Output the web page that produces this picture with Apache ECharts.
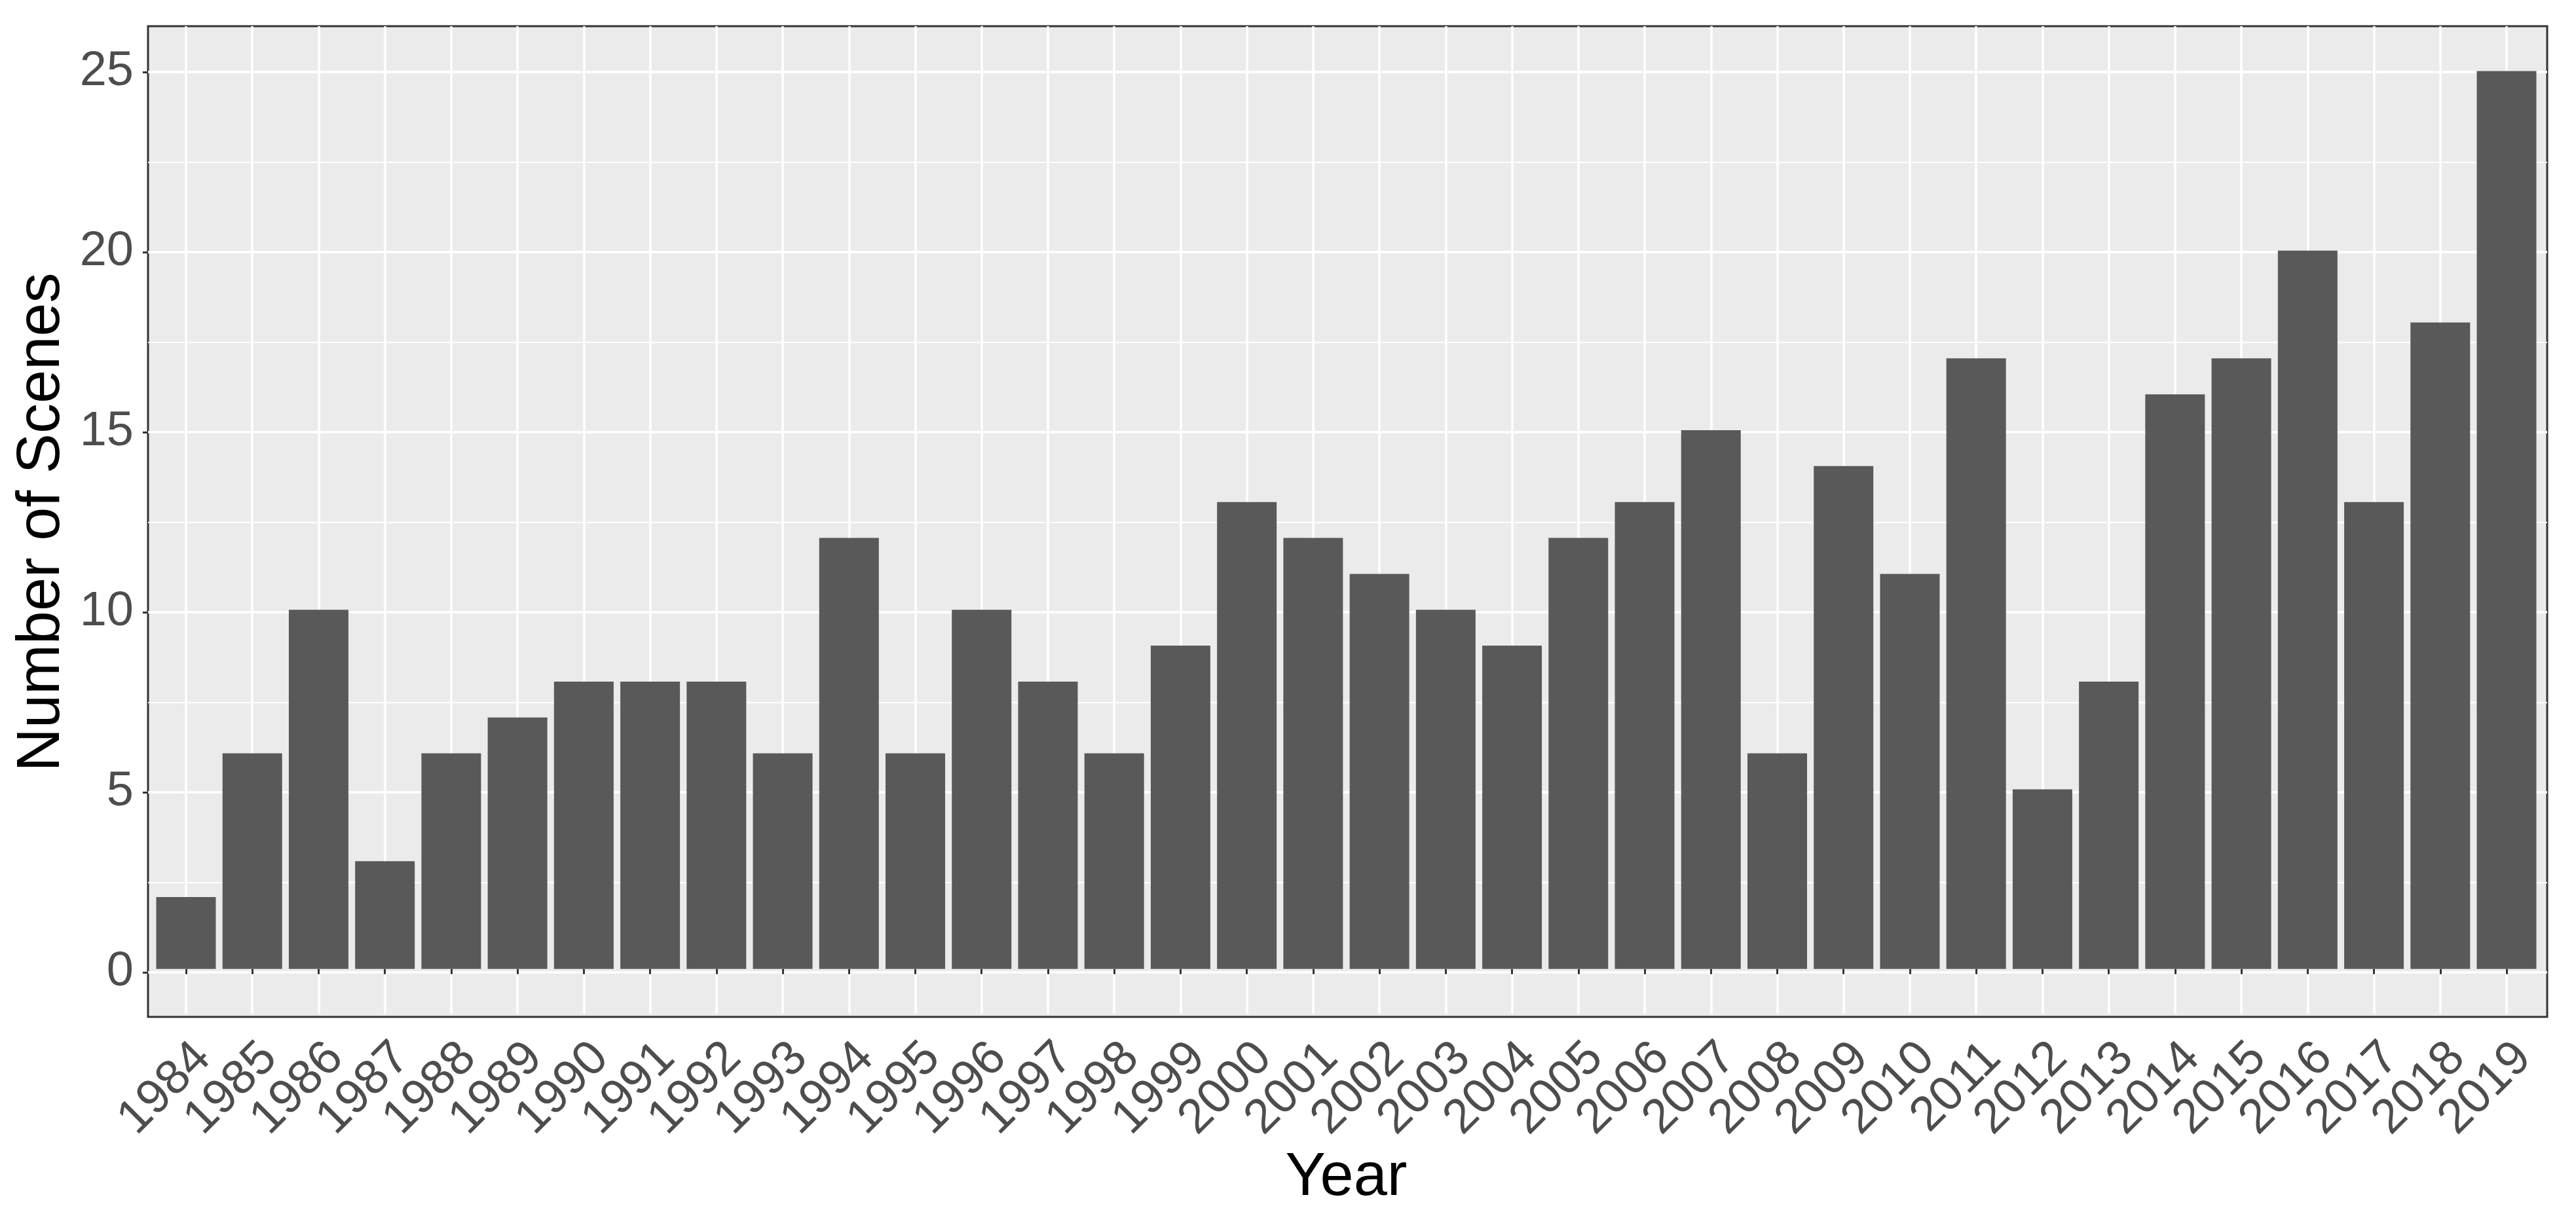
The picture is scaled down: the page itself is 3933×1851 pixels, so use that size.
<!DOCTYPE html>
<html>
<head>
<meta charset="utf-8">
<script src="https://cdn.jsdelivr.net/npm/echarts@6/dist/echarts.min.js"></script>
<style>
html,body{margin:0;padding:0;background:#fff;}
#chart{width:3933px;height:1851px;}
</style>
</head>
<body>
<div id="chart"></div>
<script>
// ---- data ----
const years = ['1984','1985','1986','1987','1988','1989','1990','1991','1992','1993','1994','1995','1996','1997','1998','1999','2000','2001','2002','2003','2004','2005','2006','2007','2008','2009','2010','2011','2012','2013','2014','2015','2016','2017','2018','2019'];
const scenes = [2,6,10,3,6,7,8,8,8,6,12,6,10,8,6,9,13,12,11,10,9,12,13,15,6,14,11,17,5,8,16,17,20,13,18,25];
const yTicks = [0,5,10,15,20,25];
const xTitle = 'Year';
const yTitle = 'Number of Scenes';

const FONT = '"Liberation Sans", Arial, sans-serif';
const chart = echarts.init(document.getElementById('chart'));

chart.setOption({
  animation: false,
  backgroundColor: '#ffffff',
  grid: [
    // panel background + border
    {left: 226, right: 44, top: 40, bottom: 298, show: true, backgroundColor: '#EBEBEB', borderColor: '#333333', borderWidth: 3, z: 0},
    // bars + vertical gridlines + x axis (first/last category at grid edges)
    {left: 284, right: 106, top: 40, bottom: 298, z: 1},
    // horizontal gridlines + y axis
    {left: 226, right: 44, top: 110, bottom: 366, z: 1}
  ],
  xAxis: [
    {gridIndex: 0, type: 'value', min: 0, max: 1, show: false},
    {gridIndex: 1, type: 'category', data: years, boundaryGap: false, z: 2,
      axisLine: {show: false},
      axisTick: {show: true, interval: 0, length: 8, lineStyle: {color: '#333333', width: 3}},
      splitLine: {show: true, interval: 0, lineStyle: {color: '#ffffff', width: 3.5}},
      axisLabel: {show: true, interval: 0, rotate: 45, align: 'right', verticalAlign: 'top', margin: 30,
        fontFamily: FONT, fontSize: 74, color: '#4D4D4D'},
      name: xTitle, nameLocation: 'middle', nameGap: 186,
      nameTextStyle: {fontFamily: FONT, fontSize: 92, color: '#000000'}
    },
    {gridIndex: 2, type: 'value', min: 0, max: 1, show: false}
  ],
  yAxis: [
    {gridIndex: 0, type: 'value', min: 0, max: 1, show: false},
    {gridIndex: 1, type: 'value', min: -1.25, max: 26.25, show: false},
    {gridIndex: 2, type: 'value', min: yTicks[0], max: yTicks[yTicks.length - 1], interval: 5, z: 2,
      axisLine: {show: false},
      axisTick: {show: true, length: 8, lineStyle: {color: '#333333', width: 3}},
      splitLine: {show: true, lineStyle: {color: '#ffffff', width: 3.5}},
      minorTick: {show: false, splitNumber: 2},
      minorSplitLine: {show: true, lineStyle: {color: '#ffffff', width: 1.8}},
      axisLabel: {show: true, margin: 22, fontFamily: FONT, fontSize: 74, color: '#4D4D4D'},
      name: yTitle, nameLocation: 'middle', nameRotate: 90, nameGap: 97,
      nameTextStyle: {fontFamily: FONT, fontSize: 92, color: '#000000'}
    }
  ],
  series: [{
    type: 'bar',
    xAxisIndex: 1, yAxisIndex: 1,
    data: scenes,
    barWidth: 91,
    clip: false,
    z: 3,
    itemStyle: {color: '#595959'}
  }]
});
</script>
</body>
</html>
